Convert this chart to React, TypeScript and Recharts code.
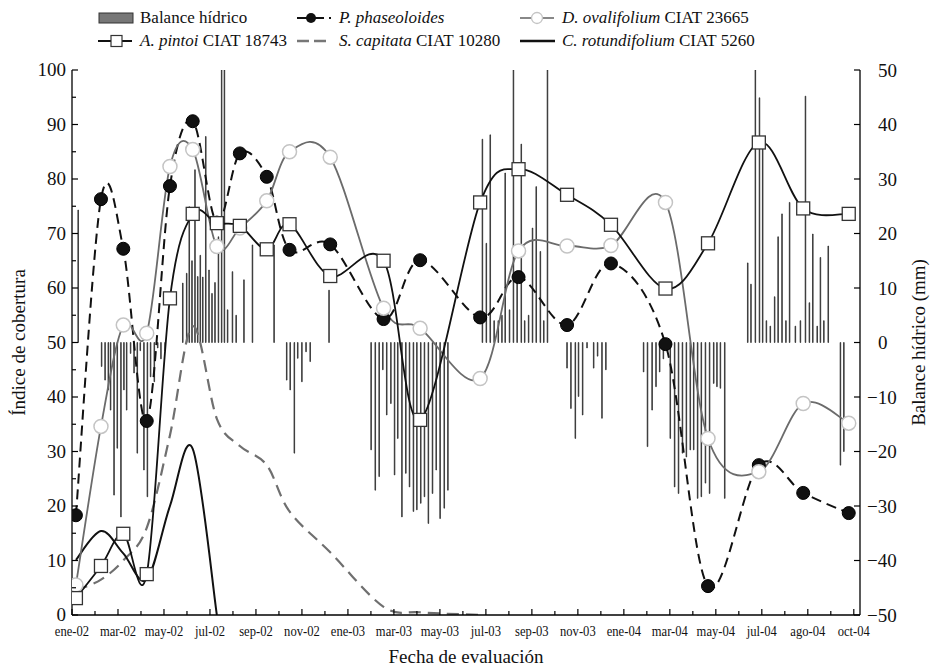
import React from 'react';
import { ComposedChart, Bar, Line, XAxis, YAxis, Legend, Label } from 'recharts';

const FONT = "'Liberation Serif', 'DejaVu Serif', 'Noto Serif', serif";

// x position in months since ene-02 (0 = ene-02)
const monthLabels = ['ene-02', 'mar-02', 'may-02', 'jul-02', 'sep-02', 'nov-02', 'ene-03', 'mar-03', 'may-03', 'jul-03', 'sep-03', 'nov-03', 'ene-04', 'mar-04', 'may-04', 'jul-04', 'ago-04', 'oct-04'];
const monthTicks = Array.from({ length: 35 }, (_, i) => i);
const leftTicks = [0, 5, 10, 15, 20, 25, 30, 35, 40, 45, 50, 55, 60, 65, 70, 75, 80, 85, 90, 95, 100];
const rightTicks = [-50, -40, -30, -20, -10, 0, 10, 20, 30, 40, 50];

const evalDates = [0.17, 1.26, 2.23, 3.25, 4.26, 5.25, 6.3, 7.3, 8.47, 9.46, 11.23, 13.55, 15.14, 17.75, 19.42, 21.53, 23.44, 25.81, 27.66, 29.87, 31.8, 33.78];
const phaseoloides = [18.3, 76.3, 67.2, 35.6, 78.7, 90.6, 72.0, 84.7, 80.4, 67.0, 68.0, 54.3, 65.1, 54.6, 62.0, 53.2, 64.5, 49.7, 5.3, 27.5, 22.4, 18.7];
const pintoi = [3.1, 9.0, 14.9, 7.5, 58.1, 73.6, 71.9, 71.4, 67.1, 71.7, 62.2, 65.0, 35.8, 75.7, 81.8, 77.1, 71.6, 59.9, 68.2, 86.7, 74.6, 73.6];
const ovalifolium = [5.5, 34.6, 53.2, 51.7, 82.3, 85.4, 67.6, 71.0, 76.0, 85.0, 84.0, 56.3, 52.6, 43.4, 66.8, 67.7, 67.8, 75.7, 32.4, 26.3, 38.8, 35.2];
const capitata = [4.5, 6.5, 10.0, 16.0, 33.0, 53.0, 36.0, 31.0, 27.5, 19.0, 11.5, 1.5, 0.5, 0.0];
const rotundifolium = [10.1, 15.4, 11.3, 6.5, 20.0, 30.5, 0.0];

const balanceDates = [
  0.27, 1.29, 1.44, 1.58, 1.68, 1.83, 1.97, 2.13, 2.26, 2.38, 2.55, 2.7, 2.84, 2.97, 3.13, 3.28, 3.42, 3.58, 3.73, 3.87, 4.05,
  4.82, 4.99, 5.1, 5.22, 5.35, 5.47, 5.58, 5.69, 5.82, 5.96, 6.09, 6.22, 6.37, 6.51, 6.63, 6.77, 6.98, 7.14, 7.48, 7.85, 8.79,
  9.34, 9.49, 9.67, 9.82, 10.0, 10.18, 10.36, 11.18,
  13.01, 13.19, 13.36, 13.52, 13.69, 13.87, 14.03, 14.17, 14.35, 14.52, 14.68, 14.85, 15.0, 15.17, 15.33, 15.5, 15.68, 15.84, 16.01, 16.19, 16.35,
  17.85, 18.02, 18.19, 18.36, 18.54, 18.7, 18.84, 19.03, 19.2, 19.36, 19.54, 19.69, 19.86, 20.03, 20.19, 20.37, 20.52, 20.68,
  21.53, 21.7, 21.89, 22.03, 22.21, 22.4, 22.69, 22.86, 23.05, 23.22,
  24.86, 25.03, 25.23, 25.4, 25.56, 25.72, 26.02, 26.21, 26.38, 26.55, 26.72, 26.89, 27.04, 27.21, 27.37, 27.55, 27.73, 27.91, 28.05, 28.2, 28.39,
  29.39, 29.53, 29.72, 29.9, 30.04, 30.2, 30.37, 30.56, 30.71, 30.88, 31.05, 31.21, 31.46, 31.68, 31.9, 32.07, 32.22, 32.41, 32.55, 32.7, 32.89,
  33.42, 33.57,
];
const balanceValues = [
  24.3, -4.4, -6.9, -8.7, -12.4, -28, -19.4, -32, -8.7, -12.4, -2, -5.6, -20.3, -1.5, -23.4, -28.3, -6.3, -7.2, -1, -3, -1.5,
  10.9, 12.7, 24.9, 15, 31.7, 12.1, 16, 12, 37.8, 13.3, 9, 11, 19.4, 50, 50, 6, 13, 5, 11.5, 17.9, 17.9,
  -6.9, -8.7, -20.3, -2.9, -7.2, -1.7, -3.5, 9.6,
  -19.7, -27.1, -24.6, -5, -13.3, -11.2, -24.3, -17.6, -32, -24, -26.5, -31, -30.7, -29.5, -28.3, -33.2, -27.7, -23.4, -32.3, -30.4, -27.1,
  37.3, 18.2, 38.1, 4, 4, 5, 31.1, 6, 50, 12, 36.4, 4, 5, 21, 28.6, 16.7, 4, 50,
  -4.7, -12.1, -17.6, -9.9, -13.3, -1, -4.7, -2.5, -13.9, -5,
  -5.4, -19.1, -12.4, -8.1, -5.4, -3, -17.6, -26.5, -27.7, -20.3, -21, -19.7, -19.7, -28.6, -28.3, -25.8, -27.7, -7.5, -8.1, -8.4, -28.6,
  14.6, 10.7, 50, 44.9, 36.5, 4, 3, 8.4, 19.4, 23.6, 4, 25.7, 3, 4, 45.2, 7.3, 19.9, 3, 15.6, 4, 17.7,
  -22.5, -20,
];

const barData = balanceDates.map((m, i) => ({ m, bal: balanceValues[i] }));
const toSeries = (vals: number[]) => vals.map((v, i) => ({ m: evalDates[i], v }));
const phaseoloidesData = toSeries(phaseoloides);
const pintoiData = toSeries(pintoi);
const ovalifoliumData = toSeries(ovalifolium);
const capitataData = toSeries(capitata);
const rotundifoliumData = toSeries(rotundifolium);

// Catmull-Rom style smoothing (like spreadsheet smoothed lines)
function smoothCurve(context: any) {
  let pts: number[][] = [];
  return {
    areaStart() {},
    areaEnd() {},
    lineStart() {
      pts = [];
    },
    point(x: number, y: number) {
      pts.push([+x, +y]);
    },
    lineEnd() {
      const n = pts.length;
      if (!n) return;
      context.moveTo(pts[0][0], pts[0][1]);
      const k = 1 / 6;
      for (let i = 0; i < n - 1; i++) {
        const p0 = pts[i - 1] || pts[i];
        const p1 = pts[i];
        const p2 = pts[i + 1];
        const p3 = pts[i + 2] || pts[i + 1];
        context.bezierCurveTo(
          p1[0] + (p2[0] - p0[0]) * k,
          p1[1] + (p2[1] - p0[1]) * k,
          p2[0] - (p3[0] - p1[0]) * k,
          p2[1] - (p3[1] - p1[1]) * k,
          p2[0],
          p2[1]
        );
      }
    },
  };
}

const blackDot = (p: any) => (
  <circle key={`pd-${p.index}`} cx={p.cx} cy={p.cy} r={6.5} fill="#111" stroke="#000" strokeWidth={1} />
);
const whiteDot = (p: any) => (
  <circle key={`od-${p.index}`} cx={p.cx} cy={p.cy} r={7} fill="#fff" stroke="#c4c4c4" strokeWidth={1.5} />
);
const squareDot = (p: any) => (
  <rect key={`sq-${p.index}`} x={p.cx - 6.5} y={p.cy - 6.5} width={13} height={13} fill="#fff" stroke="#333" strokeWidth={1.3} />
);

const XTick = (props: any) => {
  const { x, y, payload } = props;
  const v = payload.value;
  const major = v % 2 === 0;
  return (
    <g>
      <line x1={x} x2={x} y1={y} y2={y - (major ? 6 : 4)} stroke="#000" strokeWidth={1.2} />
      {major && (
        <text
          transform={`translate(${x},${y + 21}) scale(0.84,1)`}
          textAnchor="middle"
          fontSize={15}
          style={{ fontFamily: FONT }}
          fill="#111"
        >
          {monthLabels[v / 2]}
        </text>
      )}
    </g>
  );
};

const LeftTick = (props: any) => {
  const { x, y, payload } = props;
  const v = payload.value;
  const major = v % 10 === 0;
  return (
    <g>
      <line x1={x} x2={x + (major ? 6 : 4)} y1={y} y2={y} stroke="#000" strokeWidth={1.2} />
      {major && (
        <text x={x - 6} y={y + 6} textAnchor="end" fontSize={19} style={{ fontFamily: FONT }} fill="#111">
          {v}
        </text>
      )}
    </g>
  );
};

const RightTick = (props: any) => {
  const { x, y, payload } = props;
  const v = payload.value;
  const txt = v < 0 ? `\u2212${Math.abs(v)}` : `${v}`;
  return (
    <g>
      <line x1={x} x2={x - 6} y1={y} y2={y} stroke="#000" strokeWidth={1.2} />
      <text x={x + (v < 0 ? 7 : 18)} y={y + 6.5} textAnchor="start" fontSize={19} style={{ fontFamily: FONT }} fill="#111">
        {txt}
      </text>
    </g>
  );
};

const LeftTitle = (props: any) => {
  const vb = props.viewBox || { x: 32, y: 70, width: 40, height: 545 };
  const cx = vb.x - 14;
  const cy = vb.y + vb.height / 2;
  return (
    <text x={cx} y={cy} transform={`rotate(-90, ${cx}, ${cy})`} textAnchor="middle" dominantBaseline="central" fontSize={19} style={{ fontFamily: FONT }} fill="#111">
      Índice de cobertura
    </text>
  );
};
const RightTitle = (props: any) => {
  const vb = props.viewBox || { x: 860, y: 70, width: 40, height: 545 };
  const cx = vb.x + vb.width + 18;
  const cy = vb.y + vb.height / 2;
  return (
    <text x={cx} y={cy} transform={`rotate(-90, ${cx}, ${cy})`} textAnchor="middle" dominantBaseline="central" fontSize={19} style={{ fontFamily: FONT }} fill="#111">
      Balance hídrico (mm)
    </text>
  );
};
const XTitle = (props: any) => {
  const vb = props.viewBox || { x: 72, y: 615, width: 788, height: 30 };
  return (
    <text x={vb.x + vb.width / 2} y={vb.y + vb.height + 18} textAnchor="middle" fontSize={19} style={{ fontFamily: FONT }} fill="#111">
      Fecha de evaluación
    </text>
  );
};

const legendNames = ['Balance hídrico', 'P. phaseoloides', 'D. ovalifolium', 'A. pintoi', 'S. capitata', 'C. rotundifolium'];
const legendSuffix = ['', '', ' CIAT 23665', ' CIAT 18743', ' CIAT 10280', ' CIAT 5260'];
const legendItalic = [false, true, true, true, true, true];
const legendX = [98, 297, 520, 98, 297, 520];
const legendY = [18, 18, 18, 41, 41, 41];

const legendIcon = (i: number) => {
  switch (i) {
    case 0:
      return <rect x={1} y={2} width={34} height={10} fill="#777" stroke="#333" strokeWidth={1} />;
    case 1:
      return (
        <g>
          <line x1={0} x2={34} y1={7} y2={7} stroke="#111" strokeWidth={2.2} strokeDasharray="11 5" />
          <circle cx={14} cy={7} r={5} fill="#111" />
        </g>
      );
    case 2:
      return (
        <g>
          <line x1={0} x2={34} y1={7} y2={7} stroke="#888" strokeWidth={2} />
          <circle cx={17} cy={7} r={5.5} fill="#fff" stroke="#c4c4c4" strokeWidth={1.3} />
        </g>
      );
    case 3:
      return (
        <g>
          <line x1={0} x2={34} y1={7} y2={7} stroke="#111" strokeWidth={2} />
          <rect x={13} y={1.5} width={11} height={11} fill="#fff" stroke="#333" strokeWidth={1.2} />
        </g>
      );
    case 4:
      return <line x1={0} x2={34} y1={7} y2={7} stroke="#777" strokeWidth={2.4} strokeDasharray="12 5" />;
    default:
      return <line x1={0} x2={35} y1={7} y2={7} stroke="#111" strokeWidth={2.6} />;
  }
};

const LegendContent = () => (
  <div style={{ position: 'relative', width: 935, height: 56, fontFamily: FONT, fontSize: 17, color: '#111' }}>
    {legendNames.map((name, i) => (
      <div
        key={name}
        style={{ position: 'absolute', left: legendX[i], top: legendY[i] - 11, height: 22, display: 'flex', alignItems: 'center', whiteSpace: 'nowrap', fontFamily: FONT }}
      >
        <svg width={36} height={14} style={{ display: 'block' }}>
          {legendIcon(i)}
        </svg>
        <span style={{ marginLeft: 6, fontFamily: FONT }}>
          {legendItalic[i] ? <i>{name}</i> : name}
          {legendSuffix[i]}
        </span>
      </div>
    ))}
  </div>
);

export default function App() {
  return (
    <div style={{ position: 'absolute', left: 0, top: 0, width: 935, height: 670, background: '#fff', fontFamily: FONT }}>
      <ComposedChart width={935} height={670} data={barData} margin={{ top: 70, right: 35, bottom: 25, left: 32 }} style={{ fontFamily: FONT }}>
        <XAxis
          type="number"
          dataKey="m"
          domain={[0, 34.27]}
          allowDataOverflow
          ticks={monthTicks}
          interval={0}
          tick={<XTick />}
          tickLine={false}
          tickSize={0}
          tickMargin={0}
          axisLine={{ stroke: '#000', strokeWidth: 1.3 }}
          height={30}
        >
          <Label content={<XTitle />} />
        </XAxis>
        <YAxis
          yAxisId="left"
          type="number"
          domain={[0, 100]}
          allowDataOverflow
          ticks={leftTicks}
          interval={0}
          tick={<LeftTick />}
          tickLine={false}
          tickSize={0}
          tickMargin={0}
          axisLine={{ stroke: '#000', strokeWidth: 1.3 }}
          width={40}
        >
          <Label content={<LeftTitle />} />
        </YAxis>
        <YAxis
          yAxisId="right"
          orientation="right"
          type="number"
          domain={[-50, 50]}
          allowDataOverflow
          ticks={rightTicks}
          interval={0}
          tick={<RightTick />}
          tickLine={false}
          tickSize={0}
          tickMargin={0}
          axisLine={{ stroke: '#000', strokeWidth: 1.3 }}
          width={40}
        >
          <Label content={<RightTitle />} />
        </YAxis>
        <Legend
          layout="horizontal"
          verticalAlign="middle"
          align="center"
          wrapperStyle={{ top: 0, left: 0, width: 935, height: 56 }}
          content={<LegendContent />}
        />
        <Bar yAxisId="right" dataKey="bal" barSize={2} fill="#555" stroke="#222" strokeWidth={0.7} isAnimationActive={false} />
        <Line
          yAxisId="left"
          data={capitataData}
          dataKey="v"
          type={smoothCurve as any}
          stroke="#6f6f6f"
          strokeWidth={2.2}
          strokeDasharray="12 7"
          dot={false}
          activeDot={false}
          isAnimationActive={false}
        />
        <Line
          yAxisId="left"
          data={rotundifoliumData}
          dataKey="v"
          type={smoothCurve as any}
          stroke="#111"
          strokeWidth={2}
          dot={false}
          activeDot={false}
          isAnimationActive={false}
        />
        <Line
          yAxisId="left"
          data={phaseoloidesData}
          dataKey="v"
          type={smoothCurve as any}
          stroke="#111"
          strokeWidth={2}
          strokeDasharray="10 6"
          dot={blackDot}
          activeDot={false}
          isAnimationActive={false}
        />
        <Line
          yAxisId="left"
          data={ovalifoliumData}
          dataKey="v"
          type={smoothCurve as any}
          stroke="#6b6b6b"
          strokeWidth={1.8}
          dot={whiteDot}
          activeDot={false}
          isAnimationActive={false}
        />
        <Line
          yAxisId="left"
          data={pintoiData}
          dataKey="v"
          type={smoothCurve as any}
          stroke="#111"
          strokeWidth={1.8}
          dot={squareDot}
          activeDot={false}
          isAnimationActive={false}
        />
      </ComposedChart>
    </div>
  );
}
